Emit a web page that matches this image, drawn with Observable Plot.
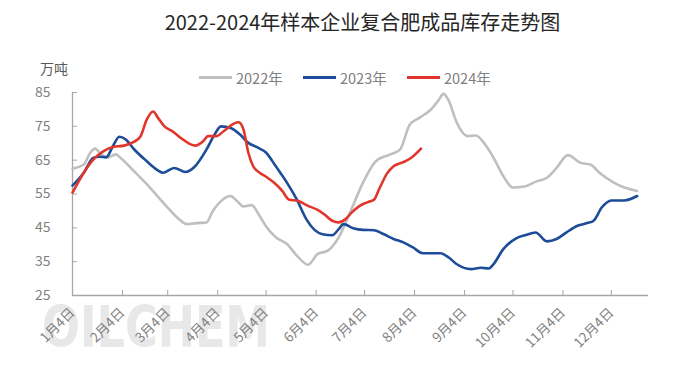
<!DOCTYPE html>
<html>
<head>
<meta charset="utf-8">
<script src="https://cdn.jsdelivr.net/npm/d3@7"></script>
<script src="https://cdn.jsdelivr.net/npm/@observablehq/plot@0.6"></script>
<style>
  html, body { margin: 0; padding: 0; background: #fff; }
  #wrap { position: relative; width: 675px; height: 373px; overflow: hidden; font-family: "Noto Sans CJK SC", "Noto Sans", sans-serif; }
  #title { position: absolute; left: 0; width: 725px; top: 7px; text-align: center; font-size: 20px; color: #262626; white-space: nowrap; }
  #unit { position: absolute; left: 40px; top: 58px; font-size: 14px; color: #595959; }
  .leg { position: absolute; top: 67px; height: 20px; display: flex; align-items: center; font-size: 14.5px; color: #808080; white-space: nowrap; }
  .leg span.sw { display: inline-block; width: 33px; height: 3px; margin-right: 4px; }
  #chart { position: absolute; left: 0; top: 0; }
</style>
</head>
<body>
<div id="wrap">
  <div id="chart"></div>
  <div id="title">2022-2024年样本企业复合肥成品库存走势图</div>
  <div id="unit">万吨</div>
  <div id="legend"></div>
</div>
<script>
// ---- data ----
const seriesNames = ["2022年", "2023年", "2024年"];
const seriesColors = ["#BFBFBF", "#1C4C9A", "#E1362C"];

const dates2022 = ["01-04","01-11","01-15","01-18","01-21","01-25","01-31","02-02","02-11","02-21","03-03","03-10","03-16","03-22","03-28","04-01","04-06","04-12","04-16","04-20","04-25","04-30","05-04","05-10","05-17","05-23","05-30","06-05","06-11","06-18","06-25","07-03","07-11","07-20","07-26","08-01","08-07","08-14","08-19","08-22","08-25","08-30","09-06","09-11","09-16","09-22","09-28","10-04","10-11","10-19","10-25","10-31","11-07","11-15","11-21","11-27","12-05","12-12","12-20"];
const values2022 = [62.5,63.7,67.2,68.4,67.2,65.7,66.7,66.0,61.8,56.9,51.5,48.0,46.1,46.4,46.6,50.0,52.9,54.4,52.9,51.3,51.7,48.5,45.4,42.2,40.2,36.8,34.1,37.3,38.2,42.2,49.5,58.3,64.7,66.7,68.1,75.5,77.5,79.9,82.8,84.6,82.8,76.3,72.1,72.3,70.1,65.7,60.3,56.9,57.2,58.8,59.8,62.7,66.5,64.2,63.7,61.1,58.5,56.9,55.9];

const dates2023 = ["01-04","01-11","01-17","01-21","01-25","01-29","02-02","02-06","02-11","02-19","02-25","03-01","03-08","03-15","03-21","03-28","04-02","04-06","04-12","04-18","04-23","04-28","05-04","05-10","05-17","05-23","05-29","06-03","06-08","06-14","06-18","06-21","06-27","07-03","07-10","07-16","07-22","07-28","08-03","08-09","08-20","08-25","08-30","09-08","09-14","09-19","09-22","09-28","10-06","10-12","10-18","10-25","10-31","11-06","11-13","11-19","11-23","11-28","12-04","12-12","12-20"];
const values2023 = [57.5,61.3,65.7,66.0,65.9,69.1,71.9,71.1,68.3,64.7,62.3,61.3,62.7,61.5,63.2,68.1,72.5,75.0,74.5,72.5,70.1,68.9,67.2,63.2,58.3,53.4,47.5,44.4,43.1,42.8,44.6,46.1,44.9,44.4,44.3,43.1,41.7,40.7,39.2,37.5,37.5,36.3,34.3,32.8,33.2,33.0,34.3,38.7,41.9,42.9,43.6,41.0,41.7,43.6,45.6,46.4,47.1,51.0,53.1,53.1,54.4];

const dates2024 = ["01-04","01-11","01-17","01-23","01-29","02-05","02-11","02-15","02-19","02-23","02-26","03-02","03-07","03-14","03-21","03-26","03-29","04-03","04-08","04-14","04-17","04-20","04-23","04-26","04-30","05-04","05-09","05-14","05-18","05-24","05-30","06-05","06-09","06-14","06-18","06-22","06-26","07-01","07-06","07-10","07-13","07-18","07-22","07-28","08-02","08-08"];
const values2024 = [55.4,61.3,65.2,67.6,68.9,69.3,70.4,71.9,77.0,79.4,77.5,75.0,73.5,70.9,69.3,70.6,72.1,72.1,73.7,75.8,76.2,74.0,67.2,63.2,61.3,60.1,58.3,55.9,53.4,52.9,51.5,50.3,49.0,47.1,46.6,47.5,49.5,51.5,52.6,53.4,56.4,61.1,63.2,64.4,65.7,68.4];

const yTicks = [25, 35, 45, 55, 65, 75, 85];
const xTickDates = ["01-04","02-04","03-04","04-04","05-04","06-04","07-04","08-04","09-04","10-04","11-04","12-04"];
const xTickLabels = ["1月4日","2月4日","3月4日","4月4日","5月4日","6月4日","7月4日","8月4日","9月4日","10月4日","11月4日","12月4日"];
const xDomain = ["01-04", "12-27"];

// ---- build ----
const parse = s => d3.utcParse("%Y-%m-%d")("2023-" + s);
const rows = [];
[[dates2022, values2022], [dates2023, values2023], [dates2024, values2024]].forEach(([ds, vs], k) => {
  ds.forEach((d, i) => rows.push({series: seriesNames[k], date: parse(d), value: vs[i]}));
});
const tickDates = xTickDates.map(parse);
const labelOf = new Map(tickDates.map((d, i) => [+d, xTickLabels[i]]));
const axisColor = "#A6A6A6";
const textColor = "#7F7F7F";

const chart = Plot.plot({
  width: 675,
  height: 373,
  marginLeft: 72,
  marginRight: 27,
  marginTop: 92,
  marginBottom: 78,
  style: {fontFamily: '"Noto Sans CJK SC", "Noto Sans", sans-serif', background: "transparent", overflow: "visible"},
  x: {type: "utc", domain: xDomain.map(parse), label: null},
  y: {domain: [25, 85], label: null},
  color: {domain: seriesNames, range: seriesColors},
  marks: [
    Plot.ruleY([25], {stroke: axisColor, strokeWidth: 1.3}),
    Plot.ruleX([parse(xDomain[0])], {stroke: axisColor, strokeWidth: 1.3}),
    // inward ticks
    Plot.axisY({ticks: yTicks, tickSize: 5, dx: 5, tickFormat: () => "", stroke: axisColor, label: null}),
    Plot.axisX({ticks: tickDates, tickSize: 5, dy: -5, tickFormat: () => "", stroke: axisColor, label: null}),
    // labels
    Plot.axisY({ticks: yTicks, tickSize: 0, tickPadding: 22, fontSize: 14, fill: textColor, label: null}),
    Plot.axisX({ticks: tickDates, tickSize: 0, tickPadding: 15, tickRotate: -45, fontSize: 13.5, fill: textColor,
      tickFormat: d => labelOf.get(+d), label: null}),
    Plot.line(rows, {x: "date", y: "value", z: "series", stroke: "series", strokeWidth: 2.6, curve: "monotone-x"})
  ]
});

// faint watermark behind everything
const svg = d3.select(chart);
svg.insert("text", ":first-child")
  .attr("x", 42).attr("y", 347)
  .attr("text-anchor", "start")
  .attr("textLength", 228).attr("lengthAdjust", "spacingAndGlyphs")
  .attr("font-family", "DejaVu Sans")
  .attr("font-weight", "bold")
  .attr("font-size", 57)
  .attr("fill", "#E8E8E8")
  .text("OILCHEM");

document.getElementById("chart").appendChild(chart);

// legend
const legendX = [199, 303, 407];
const lg = document.getElementById("legend");
seriesNames.forEach((n, i) => {
  const div = document.createElement("div");
  div.className = "leg";
  div.style.left = legendX[i] + "px";
  div.innerHTML = `<span class="sw" style="background:${seriesColors[i]}"></span>${n}`;
  lg.appendChild(div);
});
</script>
</body>
</html>
